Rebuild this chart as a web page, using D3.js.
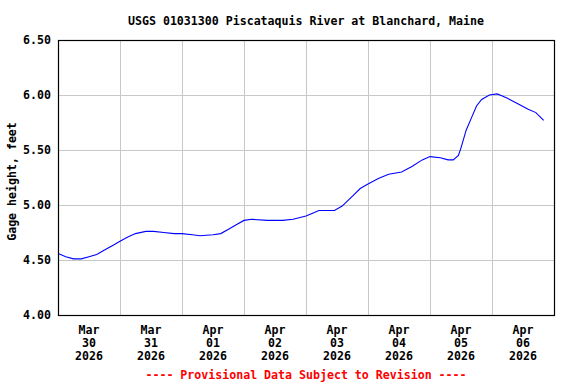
<!DOCTYPE html>
<html>
<head>
<meta charset="utf-8">
<script src="https://cdn.jsdelivr.net/npm/d3@7"></script>
<style>
  body { margin: 0; background: #fff; }
  svg { display: block; }
  text { font-family: "DejaVu Sans Mono", monospace; font-weight: bold; font-size: 11.6px; }
</style>
</head>
<body>
<div id="chart"></div>
<script>
// chart text
var title = "USGS 01031300 Piscataquis River at Blanchard, Maine";
var yTitle = "Gage height, feet";
var footer = "---- Provisional Data Subject to Revision ----";

// gage height series: hours after 2026-03-30 00:00, value in feet
var hours = [0, 3, 6, 9, 12, 15, 18, 21, 24, 27, 30, 34, 37, 41, 45, 48, 52, 55, 60, 63,
             66, 69, 72, 75, 81, 87, 91, 96, 99, 101, 104, 107, 110, 114, 117, 120, 124, 128, 133, 137,
             141, 144, 148, 151, 153, 155, 156, 158, 160, 162, 164, 167, 170, 172, 174, 178, 182, 185, 188];
var gage = [4.56, 4.53, 4.51, 4.51, 4.53, 4.55, 4.59, 4.63, 4.67, 4.71, 4.74, 4.76, 4.76, 4.75, 4.74, 4.74, 4.73, 4.72, 4.73, 4.74,
            4.78, 4.82, 4.86, 4.87, 4.86, 4.86, 4.87, 4.90, 4.93, 4.95, 4.95, 4.95, 4.99, 5.08, 5.15, 5.19, 5.24, 5.28, 5.30, 5.35,
            5.41, 5.44, 5.43, 5.41, 5.41, 5.45, 5.52, 5.68, 5.79, 5.90, 5.96, 6.00, 6.01, 5.99, 5.97, 5.92, 5.87, 5.84, 5.77];

// axis ticks
var yTicks = [4.00, 4.50, 5.00, 5.50, 6.00, 6.50];
var dayMonths = ["Mar", "Mar", "Apr", "Apr", "Apr", "Apr", "Apr", "Apr"];
var dayNums = ["30", "31", "01", "02", "03", "04", "05", "06"];
var dayYears = ["2026", "2026", "2026", "2026", "2026", "2026", "2026", "2026"];

var w = 576, h = 384;
var margin = { top: 40, right: 22, bottom: 69, left: 58 };
var width = w - margin.left - margin.right,
    height = h - margin.top - margin.bottom;

var start = Date.UTC(2026, 2, 30);
var HOUR = 3600 * 1000, DAY = 24 * HOUR;

var svg = d3.select("#chart").append("svg")
    .attr("width", w)
    .attr("height", h);

var x = d3.scaleUtc()
    .domain([new Date(start), new Date(start + dayNums.length * DAY)])
    .range([0, width]);
var y = d3.scaleLinear()
    .domain([4, 6.5])
    .range([height, 0]);

var g = svg.append("g")
    .attr("transform", "translate(" + margin.left + "," + margin.top + ")");

// grid
var dayStarts = dayNums.map(function (d, i) { return new Date(start + i * DAY); });
g.append("g")
    .selectAll("line")
    .data(dayStarts.slice(1))
    .enter().append("line")
    .attr("x1", function (d) { return Math.round(x(d)) + 0.5; })
    .attr("x2", function (d) { return Math.round(x(d)) + 0.5; })
    .attr("y1", 0)
    .attr("y2", height)
    .attr("stroke", "#c8c8c8");

g.append("g")
    .selectAll("line")
    .data(yTicks)
    .enter().append("line")
    .attr("x1", 0)
    .attr("x2", width)
    .attr("y1", function (d) { return Math.round(y(d)) + 0.5; })
    .attr("y2", function (d) { return Math.round(y(d)) + 0.5; })
    .attr("stroke", "#c8c8c8");

// y tick labels
g.append("g")
    .selectAll("text")
    .data(yTicks)
    .enter().append("text")
    .attr("x", -7)
    .attr("y", function (d) { return y(d); })
    .attr("dy", "0.35em")
    .attr("text-anchor", "end")
    .text(function (d) { return d3.format(".2f")(d); });

// x tick labels, centred at noon of each day
var xl = g.append("g")
    .selectAll("text")
    .data(dayStarts)
    .enter().append("text")
    .attr("text-anchor", "middle")
    .attr("transform", function (d) {
        return "translate(" + x(new Date(+d + 12 * HOUR)) + "," + (height + 19) + ")";
    });
xl.append("tspan").attr("x", 0).attr("y", 0).text(function (d, i) { return dayMonths[i]; });
xl.append("tspan").attr("x", 0).attr("y", 13).text(function (d, i) { return dayNums[i]; });
xl.append("tspan").attr("x", 0).attr("y", 26).text(function (d, i) { return dayYears[i]; });

// series line
var line = d3.line()
    .x(function (d) { return x(new Date(start + d[0] * HOUR)); })
    .y(function (d) { return y(d[1]); });

g.append("path")
    .datum(hours.map(function (t, i) { return [t, gage[i]]; }))
    .attr("fill", "none")
    .attr("stroke", "#0000ff")
    .attr("stroke-width", 1.1)
    .attr("d", line);

// frame
g.append("rect")
    .attr("x", 0.5)
    .attr("y", 0.5)
    .attr("width", width)
    .attr("height", height)
    .attr("fill", "none")
    .attr("stroke", "#000")
    .attr("stroke-width", 1.2);

// titles
svg.append("text")
    .attr("x", margin.left + width / 2)
    .attr("y", 25)
    .attr("text-anchor", "middle")
    .text(title);

svg.append("text")
    .attr("transform", "translate(16," + (margin.top + height / 2 + 4) + ") rotate(-90)")
    .attr("text-anchor", "middle")
    .text(yTitle);

svg.append("text")
    .attr("x", margin.left + width / 2)
    .attr("y", 379)
    .attr("text-anchor", "middle")
    .attr("fill", "#ff0000")
    .text(footer);
</script>
</body>
</html>
